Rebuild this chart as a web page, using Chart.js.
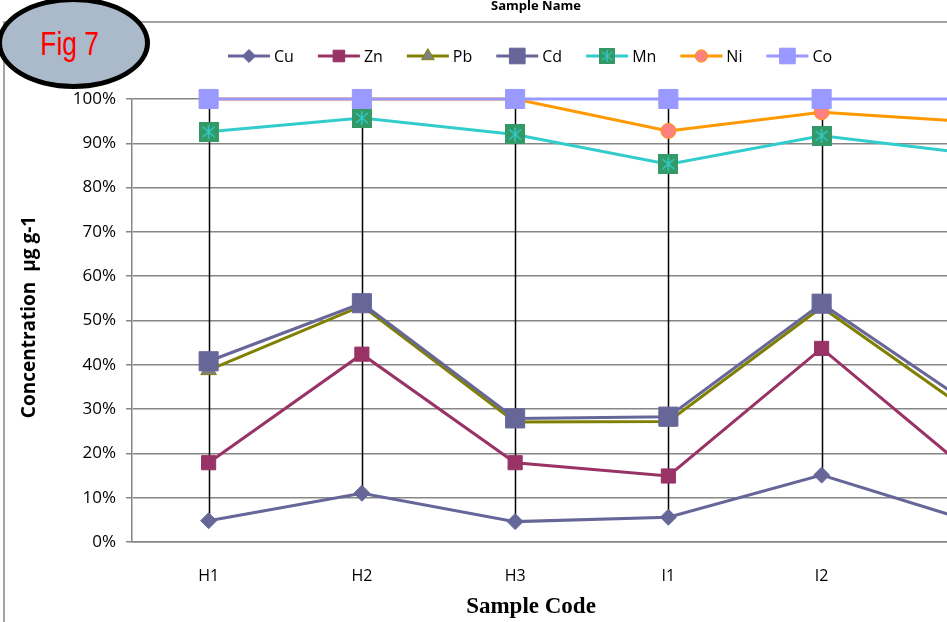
<!DOCTYPE html>
<html>
<head>
<meta charset="utf-8">
<script src="https://cdn.jsdelivr.net/npm/chart.js@4.4.1/dist/chart.umd.min.js"></script>
<style>
    html, body { margin: 0; padding: 0; overflow: hidden; background: #fff; }
    #wrap { position: relative; width: 1066px; height: 622px; }
    #chart { position: absolute; left: 0; top: 0; }
    #fig {
        position: absolute; left: -3px; top: -3px; width: 143px; height: 82px;
        border: 5px solid #000; border-radius: 50%; background: #aabaca;
        display: flex; align-items: center; justify-content: center;
    }
    #fig span {
        color: #ff0000; font-family: 'Liberation Sans', Arial, sans-serif; font-size: 33px;
        transform: scaleX(0.8); margin-left: -8px; margin-top: 1px;
    }
</style>
</head>
<body>
<div id="wrap">
    <canvas id="chart" width="1066" height="622"></canvas>
    <div id="fig"><span>Fig 7</span></div>
</div>
<script>
// sample codes (last one is cut off by the right edge)
const categories = ['H1', 'H2', 'H3', 'I1', 'I2', 'I3'];

// cumulative concentration share, %
const cuValues = [4.8, 11.0, 4.6, 5.6, 15.1, 4.4];
const znValues = [17.9, 42.4, 17.9, 14.9, 43.7, 14.9];
const pbValues = [38.8, 53.3, 27.1, 27.2, 53.0, 28.6];
const cdValues = [40.8, 53.9, 27.9, 28.3, 53.8, 30.3];
const mnValues = [92.6, 95.7, 92.0, 85.3, 91.7, 87.6];
const niValues = [100, 100, 100, 92.8, 97.0, 94.8];
const coValues = [100, 100, 100, 100, 100, 100];

const yTicks = [0, 10, 20, 30, 40, 50, 60, 70, 80, 90, 100];

// Mn marker: green square with a cyan star
const mnMarker = document.createElement('canvas');
mnMarker.width = 20;
mnMarker.height = 20;
(() => {
    const c = mnMarker.getContext('2d');
    c.fillStyle = '#339966';
    c.fillRect(0, 0, 20, 20);
    c.strokeStyle = '#33cccc';
    c.lineWidth = 1.5;
    c.beginPath();
    c.moveTo(10, 3); c.lineTo(10, 17);
    c.moveTo(4, 5); c.lineTo(16, 15);
    c.moveTo(16, 5); c.lineTo(4, 15);
    c.stroke();
})();

const series = [
    { label: 'Cu', data: cuValues, color: '#666699', fill: '#666699', style: 'rectRot', radius: 8 },
    { label: 'Zn', data: znValues, color: '#993366', fill: '#993366', style: 'rect', radius: 10 },
    { label: 'Pb', data: pbValues, color: '#808000', fill: '#808080', style: 'triangle', radius: 9 },
    { label: 'Cd', data: cdValues, color: '#666699', fill: '#666699', style: 'rect', radius: 13.5 },
    { label: 'Mn', data: mnValues, color: '#33cccc', fill: '#339966', style: mnMarker, radius: 10 },
    { label: 'Ni', data: niValues, color: '#ff9900', fill: '#ff8080', style: 'circle', radius: 7.5 },
    { label: 'Co', data: coValues, color: '#9999ff', fill: '#9999ff', style: 'rect', radius: 13.5 },
];

function drawMarker(ctx, s, cx, cy, scale) {
    const r = s.radius * scale;
    ctx.save();
    ctx.fillStyle = s.fill;
    ctx.strokeStyle = s.style === 'triangle' || s.style === 'circle' ? s.color : s.fill;
    ctx.lineWidth = 1;
    if (s.style instanceof HTMLCanvasElement) {
        const w = s.style.width * scale;
        ctx.drawImage(s.style, cx - w / 2, cy - w / 2, w, w);
        ctx.restore();
        return;
    }
    ctx.beginPath();
    if (s.style === 'rectRot') {
        ctx.moveTo(cx, cy - r); ctx.lineTo(cx + r, cy); ctx.lineTo(cx, cy + r); ctx.lineTo(cx - r, cy);
    } else if (s.style === 'rect') {
        const h = r * Math.SQRT1_2;
        ctx.rect(cx - h, cy - h, 2 * h, 2 * h);
    } else if (s.style === 'triangle') {
        for (let k = 0; k < 3; k++) {
            const a = k * 2 * Math.PI / 3;
            const px = cx + Math.sin(a) * r, py = cy - Math.cos(a) * r;
            k ? ctx.lineTo(px, py) : ctx.moveTo(px, py);
        }
    } else {
        ctx.arc(cx, cy, r, 0, Math.PI * 2);
    }
    ctx.closePath();
    ctx.fill();
    ctx.stroke();
    ctx.restore();
}

// black high-low lines at each category
const hiLoLines = {
    id: 'hiLoLines',
    beforeDatasetsDraw(chart) {
        const { ctx, scales: { x, y } } = chart;
        ctx.save();
        ctx.strokeStyle = '#000';
        ctx.lineWidth = 1.5;
        categories.forEach((c, i) => {
            const vals = chart.data.datasets.map((d) => d.data[i]);
            const px = Math.round(x.getPixelForValue(i)) + 0.5;
            ctx.beginPath();
            ctx.moveTo(px, y.getPixelForValue(Math.max(...vals)));
            ctx.lineTo(px, y.getPixelForValue(Math.min(...vals)));
            ctx.stroke();
        });
        ctx.restore();
    },
};

// legend, titles and frame
const decorations = {
    id: 'decorations',
    afterDraw(chart) {
        const ctx = chart.ctx;
        ctx.save();

        // outer frame
        ctx.strokeStyle = '#868686';
        ctx.lineWidth = 1.5;
        ctx.beginPath();
        ctx.moveTo(4, 640);
        ctx.lineTo(4, 22);
        ctx.lineTo(1066, 22);
        ctx.stroke();

        ctx.fillStyle = '#000';
        ctx.textAlign = 'center';
        ctx.textBaseline = 'alphabetic';
        ctx.font = "bold 13px 'Open Sans'";
        ctx.fillText('Sample Name', 536, 10);

        // legend
        let lx = 228;
        const ly = 56;
        ctx.font = "16px 'Open Sans'";
        ctx.textAlign = 'left';
        ctx.textBaseline = 'middle';
        series.forEach((s) => {
            ctx.strokeStyle = s.color;
            ctx.lineWidth = 3;
            ctx.beginPath();
            ctx.moveTo(lx, ly);
            ctx.lineTo(lx + 42, ly);
            ctx.stroke();
            drawMarker(ctx, s, lx + 21, ly, 0.82);
            ctx.fillStyle = '#000';
            ctx.fillText(s.label, lx + 46, ly + 1);
            lx += 46 + ctx.measureText(s.label).width + 24;
        });

        // y title
        ctx.save();
        ctx.translate(30, 317);
        ctx.rotate(-Math.PI / 2);
        ctx.textAlign = 'center';
        ctx.font = "bold 19px 'Open Sans'";
        ctx.fillText('Concentration  \u00b5g g-1', 0, 0);
        ctx.restore();

        // x title
        ctx.textAlign = 'center';
        ctx.font = "bold 23px 'Liberation Serif'";
        ctx.fillText('Sample Code', 531, 607);
        ctx.restore();
    },
};

Chart.defaults.font.family = "'Open Sans', sans-serif";
Chart.defaults.color = '#000';

new Chart(document.getElementById('chart'), {
    type: 'line',
    data: {
        labels: categories,
        datasets: series.map((s, i) => ({
            label: s.label,
            data: s.data,
            borderColor: s.color,
            backgroundColor: s.fill,
            borderWidth: 3,
            pointStyle: s.style,
            pointRadius: s.radius,
            pointBackgroundColor: s.fill,
            pointBorderColor: s.style === 'triangle' || s.style === 'circle' ? s.color : s.fill,
            pointBorderWidth: 1,
            tension: 0,
            clip: false,
            order: series.length - i,
        })),
    },
    options: {
        responsive: false,
        animation: false,
        layout: { padding: { top: 99, right: 10, bottom: 0, left: 0 } },
        plugins: { legend: { display: false }, tooltip: { enabled: false } },
        scales: {
            x: {
                offset: true,
                grid: { display: false, drawTicks: false },
                border: { display: true, color: '#868686', width: 1.5 },
                ticks: { font: { size: 16 }, padding: 25 },
                afterFit: (s) => { s.height = 80; },
            },
            y: {
                min: 0,
                max: 100,
                afterBuildTicks: (s) => { s.ticks = yTicks.map((v) => ({ value: v })); },
                ticks: { font: { size: 17 }, padding: 10, callback: (v) => v + '%' },
                grid: { color: '#868686', lineWidth: 1.5, tickLength: 6 },
                border: { display: true, color: '#868686', width: 1.5 },
                afterFit: (s) => { s.width = 132; },
            },
        },
    },
    plugins: [hiLoLines, decorations],
});
</script>
</body>
</html>
